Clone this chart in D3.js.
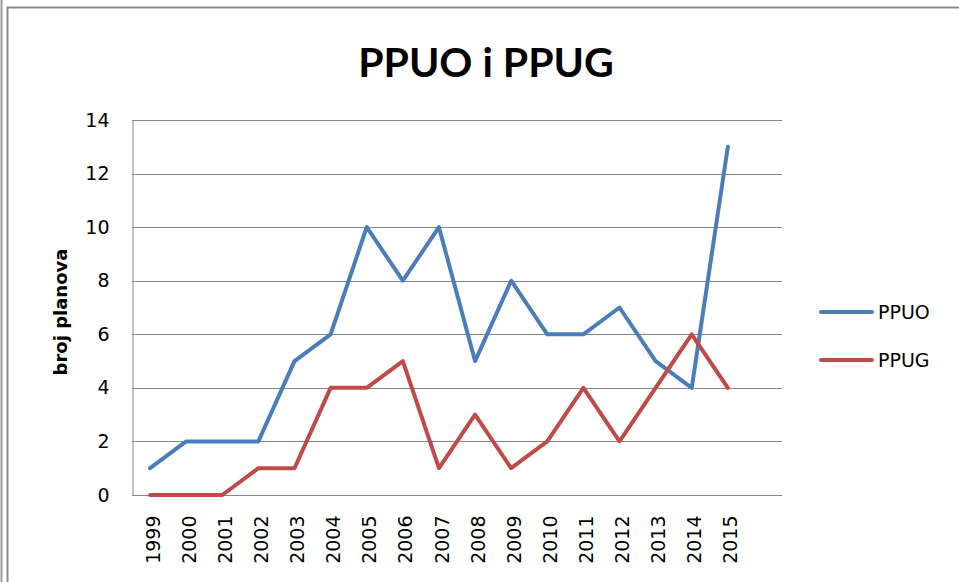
<!DOCTYPE html>
<html lang="hr">
  <head>
    <meta charset="UTF-8" />
    <title>PPUO i PPUG</title>
    <style>
      body { margin: 0; background: #fff; }
    </style>
  </head>
  <body>
    <svg width="959" height="582"></svg>

    <script src="https://d3js.org/d3.v7.min.js"></script>
    <script>
      const years = ["1999", "2000", "2001", "2002", "2003", "2004", "2005", "2006", "2007",
        "2008", "2009", "2010", "2011", "2012", "2013", "2014", "2015"];
      const ppuo = [1, 2, 2, 2, 5, 6, 10, 8, 10, 5, 8, 6, 6, 7, 5, 4, 13];
      const ppug = [0, 0, 0, 1, 1, 4, 4, 5, 1, 3, 1, 2, 4, 2, 4, 6, 4];
      const yTicks = [0, 2, 4, 6, 8, 10, 12, 14];
      const seriesNames = ["PPUO", "PPUG"];
      const colors = ["#4a7ebb", "#be4b48"];

      const svg = d3.select("svg");
      const width = +svg.attr("width");
      const height = +svg.attr("height");
      const tickFont = "'DejaVu Sans', Verdana, sans-serif";

      // outer frame
      svg.append("line").attr("x1", 1.5).attr("x2", 1.5).attr("y1", 0).attr("y2", height)
        .style("stroke", "#9a9a9a").style("stroke-width", 2);
      svg.append("path").attr("d", `M7.5,${height}V7.5H${width}`)
        .style("fill", "none").style("stroke", "#8c8c8c").style("stroke-width", 2);

      const plot = { left: 132, right: 782, top: 120, bottom: 495 };

      // one empty slot on the right, like the original
      const x = d3.scaleBand()
        .domain(years.concat([""]))
        .range([plot.left, plot.right])
        .padding(0);
      const cx = (d) => x(d) + x.bandwidth() / 2;

      const y = d3.scaleLinear().domain([0, 14]).range([plot.bottom, plot.top]);

      // gridlines
      svg.append("g")
        .selectAll("line")
        .data(yTicks)
        .join("line")
        .attr("x1", plot.left)
        .attr("x2", plot.right)
        .attr("y1", (d) => Math.round(y(d)) + 0.5)
        .attr("y2", (d) => Math.round(y(d)) + 0.5)
        .style("stroke", "#868686")
        .style("stroke-width", 1);

      // y axis
      const yAxis = svg.append("g")
        .attr("transform", `translate(${plot.left + 0.5},0)`)
        .call(d3.axisLeft(y).tickValues(yTicks).tickSize(0).tickPadding(23));
      yAxis.select(".domain").style("stroke", "#868686");
      yAxis.selectAll("text")
        .style("font-family", tickFont)
        .style("font-size", "19px")
        .style("fill", "#000");

      // x axis
      const xAxis = svg.append("g")
        .attr("transform", `translate(0,${Math.round(plot.bottom) + 0.5})`)
        .call(d3.axisBottom(x).tickValues(years).tickSize(0).tickPadding(0));
      xAxis.select(".domain").remove();
      xAxis.selectAll("text")
        .attr("transform", "rotate(-90)")
        .attr("x", -20)
        .attr("y", 3)
        .attr("dy", "0.35em")
        .style("text-anchor", "end")
        .style("font-family", tickFont)
        .style("font-size", "19px")
        .style("fill", "#000");

      // y label
      svg.append("text")
        .attr("transform", "translate(61,312) rotate(-90)")
        .attr("text-anchor", "middle")
        .attr("dy", "0.35em")
        .style("font-family", tickFont)
        .style("font-weight", "bold")
        .style("font-size", "18px")
        .text("broj planova");

      // title
      svg.append("text")
        .attr("x", 486)
        .attr("y", 77)
        .attr("text-anchor", "middle")
        .style("font-family", "Lato, 'Open Sans', sans-serif")
        .style("font-weight", "bold")
        .style("font-size", "41px")
        .text("PPUO i PPUG");

      // lines
      const line = d3.line()
        .x((d, i) => cx(years[i]))
        .y((d) => y(d));

      [ppuo, ppug].forEach((vals, k) => {
        svg.append("path")
          .datum(vals)
          .attr("d", line)
          .style("fill", "none")
          .style("stroke", colors[k])
          .style("stroke-width", 4)
          .style("stroke-linejoin", "round")
          .style("stroke-linecap", "round");
      });

      // legend
      const legend = svg.append("g").attr("transform", "translate(821,312)");
      seriesNames.forEach((name, i) => {
        const g = legend.append("g").attr("transform", `translate(0,${i * 48})`);
        g.append("line")
          .attr("x1", 0).attr("x2", 51)
          .style("stroke", colors[i])
          .style("stroke-width", 4)
          .style("stroke-linecap", "round");
        g.append("text")
          .attr("x", 57)
          .attr("dy", "0.35em")
          .style("font-family", tickFont)
          .style("font-size", "19px")
          .text(name);
      });
    </script>
  </body>
</html>
